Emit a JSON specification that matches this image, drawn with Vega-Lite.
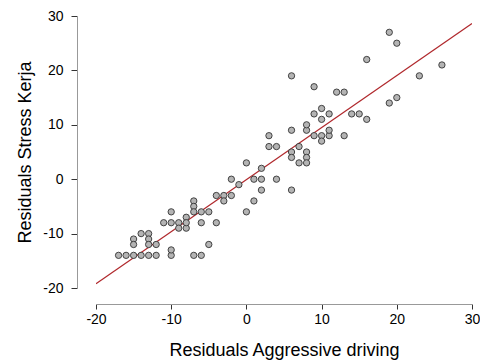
{
  "$schema": "https://vega.github.io/schema/vega-lite/v6.json",
  "width": 376,
  "height": 272,
  "autosize": {"type": "none"},
  "padding": {"left": 96, "top": 16, "right": 8, "bottom": 73},
  "background": "white",
  "config": {
    "view": {"stroke": null},
    "font": "Liberation Sans",
    "axis": {
      "grid": false,
      "labelFont": "Liberation Sans",
      "titleFont": "Liberation Sans",
      "labelFontSize": 14,
      "titleFontSize": 18,
      "titleFontWeight": "normal",
      "labelColor": "black",
      "titleColor": "black",
      "domainColor": "#999999",
      "tickColor": "#333333",
      "domainWidth": 1,
      "tickWidth": 1,
      "labelExpr": "datum.value + ''"
    }
  },
  "datasets": {
    "pts": [
      {"x": -17, "y": -14}, {"x": -16, "y": -14}, {"x": -15, "y": -14}, {"x": -14, "y": -14},
      {"x": -13, "y": -14}, {"x": -12, "y": -14}, {"x": -10, "y": -14}, {"x": -10, "y": -13},
      {"x": -7, "y": -14}, {"x": -6, "y": -14}, {"x": -5, "y": -12}, {"x": -15, "y": -11},
      {"x": -15, "y": -12}, {"x": -14, "y": -10}, {"x": -13, "y": -10}, {"x": -13, "y": -11},
      {"x": -13, "y": -12}, {"x": -12, "y": -12}, {"x": -11, "y": -8}, {"x": -10, "y": -8},
      {"x": -9, "y": -8}, {"x": -10, "y": -6}, {"x": -9, "y": -9}, {"x": -8, "y": -9},
      {"x": -8, "y": -7}, {"x": -8, "y": -8}, {"x": -7, "y": -4}, {"x": -7, "y": -5},
      {"x": -7, "y": -6}, {"x": -6, "y": -6}, {"x": -5, "y": -6}, {"x": -6, "y": -8},
      {"x": -4, "y": -8}, {"x": -4, "y": -3}, {"x": -3, "y": -3}, {"x": -2, "y": -3},
      {"x": -3, "y": -4}, {"x": -2, "y": 0}, {"x": -1, "y": -1}, {"x": 0, "y": -6},
      {"x": 0, "y": 3}, {"x": 2, "y": 2}, {"x": 1, "y": 0}, {"x": 2, "y": 0},
      {"x": 4, "y": 0}, {"x": 2, "y": -2}, {"x": 6, "y": -2}, {"x": 1, "y": -4},
      {"x": 3, "y": 8}, {"x": 3, "y": 6}, {"x": 4, "y": 6}, {"x": 6, "y": 5},
      {"x": 6, "y": 4}, {"x": 7, "y": 6}, {"x": 8, "y": 5}, {"x": 8, "y": 4},
      {"x": 8, "y": 3}, {"x": 7, "y": 3}, {"x": 6, "y": 9}, {"x": 8, "y": 9},
      {"x": 8, "y": 10}, {"x": 9, "y": 8}, {"x": 10, "y": 8}, {"x": 11, "y": 8},
      {"x": 10, "y": 7}, {"x": 11, "y": 9}, {"x": 13, "y": 8}, {"x": 9, "y": 12},
      {"x": 11, "y": 12}, {"x": 10, "y": 11}, {"x": 10, "y": 13}, {"x": 14, "y": 12},
      {"x": 15, "y": 12}, {"x": 16, "y": 11}, {"x": 9, "y": 17}, {"x": 12, "y": 16},
      {"x": 13, "y": 16}, {"x": 6, "y": 19}, {"x": 16, "y": 22}, {"x": 19, "y": 27},
      {"x": 20, "y": 25}, {"x": 26, "y": 21}, {"x": 23, "y": 19}, {"x": 19, "y": 14},
      {"x": 20, "y": 15}
    ],
    "fit": [
      {"x": -20, "y": -19.2},
      {"x": 30, "y": 28.6}
    ]
  },
  "encoding": {
    "x": {
      "field": "x", "type": "quantitative",
      "scale": {"domain": [-20, 30], "nice": false, "zero": false},
      "axis": {"title": "Residuals Aggressive driving", "values": [-20, -10, 0, 10, 20, 30], "offset": 16, "tickSize": 5, "labelPadding": 3, "titlePadding": 15, "labelFlush": false}
    },
    "y": {
      "field": "y", "type": "quantitative",
      "scale": {"domain": [-20, 30], "nice": false, "zero": false},
      "axis": {"title": "Residuals Stress Kerja", "values": [-20, -10, 0, 10, 20, 30], "offset": 19, "tickSize": 6, "labelPadding": 8, "titlePadding": 8, "labelFlush": false}
    }
  },
  "layer": [
    {
      "data": {"name": "fit"},
      "mark": {"type": "line", "color": "#b0282c", "strokeWidth": 1.2, "clip": true}
    },
    {
      "data": {"name": "pts"},
      "mark": {"type": "point", "shape": "circle", "filled": true, "fill": "#b4b4b4", "stroke": "#333333", "strokeWidth": 0.9, "size": 40, "opacity": 1}
    }
  ]
}
